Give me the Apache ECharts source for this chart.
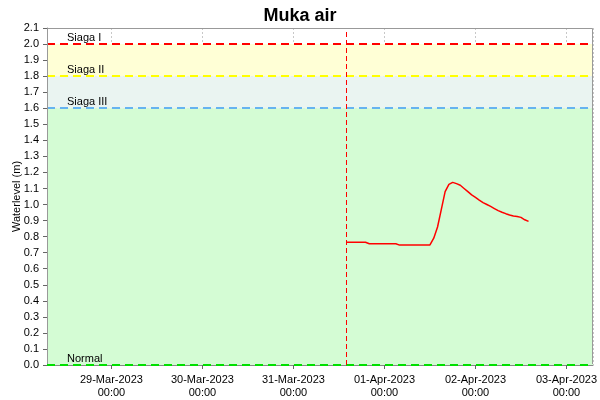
<!DOCTYPE html>
<html lang="en">
<head>
    <meta charset="UTF-8">
    <title>Muka air</title>
    <script src="https://cdn.jsdelivr.net/npm/echarts@6/dist/echarts.min.js"></script>
    <style>
        html, body { margin: 0; padding: 0; background: #fff; }
        #chart { width: 600px; height: 400px; }
    </style>
</head>
<body>
<div id="chart"></div>
<script type="text/javascript">
    // hourly readings starting 31-Mar-2023 14:00
    var startTime = [2023, 2, 31, 14];
    var levels = [
        0.765, 0.765, 0.765, 0.765, 0.765, 0.765,
        0.756, 0.756, 0.756, 0.756, 0.756, 0.756, 0.756, 0.756,
        0.747, 0.747, 0.747, 0.747, 0.747, 0.747, 0.747, 0.747, 0.748,
        0.79, 0.86, 0.97, 1.08, 1.126, 1.138, 1.13, 1.12,
        1.10, 1.08, 1.06, 1.045, 1.028, 1.012, 1.0, 0.988,
        0.975, 0.962, 0.952, 0.943, 0.935, 0.928, 0.926, 0.92, 0.905, 0.895
    ];
    var thresholdNames = ['Siaga I', 'Siaga II', 'Siaga III', 'Normal'];
    var thresholdValues = [2.0, 1.8, 1.6, 0.0];
    var thresholdColors = ['#ff0000', '#ffff00', '#66b3f0', '#00e000'];
    var bandColors = ['#ffffd6', '#eaf4f1', '#d4fcd4'];
    var months = ['Jan','Feb','Mar','Apr','May','Jun','Jul','Aug','Sep','Oct','Nov','Dec'];

    var t0 = new Date(startTime[0], startTime[1], startTime[2], startTime[3]).getTime();
    var data = [];
    for (var i = 0; i < levels.length; i++) {
        data.push([t0 + i * 3600000, levels[i]]);
    }
    var xMin = new Date(2023, 2, 28, 7).getTime();
    var xMax = new Date(2023, 3, 3, 7).getTime();

    function pad(n) { return (n < 10 ? '0' : '') + n; }

    var markLines = [];
    for (var i = 0; i < thresholdValues.length; i++) {
        markLines.push({
            yAxis: thresholdValues[i],
            lineStyle: { color: thresholdColors[i], type: [8, 5], width: 2 },
            label: { formatter: thresholdNames[i] }
        });
    }
    markLines.push({
        xAxis: t0,
        itemStyle: { color: '#ff0000' },
        lineStyle: { color: '#ff0000', type: [5, 3], width: 1, opacity: 1 },
        label: { show: false }
    });

    var bands = [];
    for (var i = 0; i < bandColors.length; i++) {
        bands.push([
            { yAxis: thresholdValues[i + 1], itemStyle: { color: bandColors[i] } },
            { yAxis: thresholdValues[i] }
        ]);
    }

    var myChart = echarts.init(document.getElementById('chart'));
    var option = {
        animation: false,
        textStyle: { fontFamily: 'Liberation Sans, Arial, sans-serif' },
        title: {
            text: 'Muka air',
            left: 'center',
            top: 2,
            textStyle: { fontSize: 18, fontWeight: 'bold', color: '#000' }
        },
        grid: {
            left: 47, right: 7, top: 28, bottom: 35,
            containLabel: false, outerBoundsMode: 'none'
        },
        // plot frame (left, top, right) drawn above the coloured bands
        graphic: [{
            type: 'polyline',
            shape: { points: [[47.5, 364], [47.5, 28.5], [592.5, 28.5], [592.5, 364]] },
            style: { fill: null, stroke: '#999', lineWidth: 1 },
            silent: true,
            z: 100
        }],
        xAxis: {
            type: 'time',
            min: xMin,
            max: xMax,
            minInterval: 86400000,
            maxInterval: 86400000,
            axisLine: { lineStyle: { color: '#888' } },
            axisTick: { show: true, length: 4, lineStyle: { color: '#666' } },
            axisLabel: {
                color: '#000',
                fontSize: 11,
                lineHeight: 13,
                hideOverlap: false,
                showMinLabel: false,
                showMaxLabel: false,
                formatter: function (v) {
                    var d = new Date(v);
                    return pad(d.getDate()) + '-' + months[d.getMonth()] + '-' + d.getFullYear() +
                        '\n' + pad(d.getHours()) + ':' + pad(d.getMinutes());
                }
            },
            splitLine: { show: true, lineStyle: { color: '#c8c8c8', type: [2, 2] } }
        },
        yAxis: {
            type: 'value',
            min: 0,
            max: 2.1,
            interval: 0.1,
            name: 'Waterlevel (m)',
            nameLocation: 'middle',
            nameGap: 25,
            nameMoveOverlap: false,
            nameTextStyle: { color: '#000', fontSize: 11 },
            axisLine: { show: true, lineStyle: { color: '#888' } },
            axisTick: { show: true, length: 4, lineStyle: { color: '#666' } },
            axisLabel: {
                color: '#000',
                fontSize: 11,
                formatter: function (v) { return v.toFixed(1); }
            },
            splitLine: { show: true, lineStyle: { color: '#dcdcdc', type: [2, 2] } }
        },
        series: [
            {
                name: 'Waterlevel',
                type: 'line',
                data: data,
                showSymbol: false,
                lineStyle: { color: '#ff0000', width: 1.5 },
                z: 5,
                markArea: {
                    silent: true,
                    data: bands
                },
                markLine: {
                    silent: true,
                    symbol: 'none',
                    label: {
                        position: 'insideStartTop',
                        distance: [20, 1],
                        color: '#000',
                        fontSize: 11
                    },
                    data: markLines
                }
            }
        ]
    };
    myChart.setOption(option);
</script>
</body>
</html>
